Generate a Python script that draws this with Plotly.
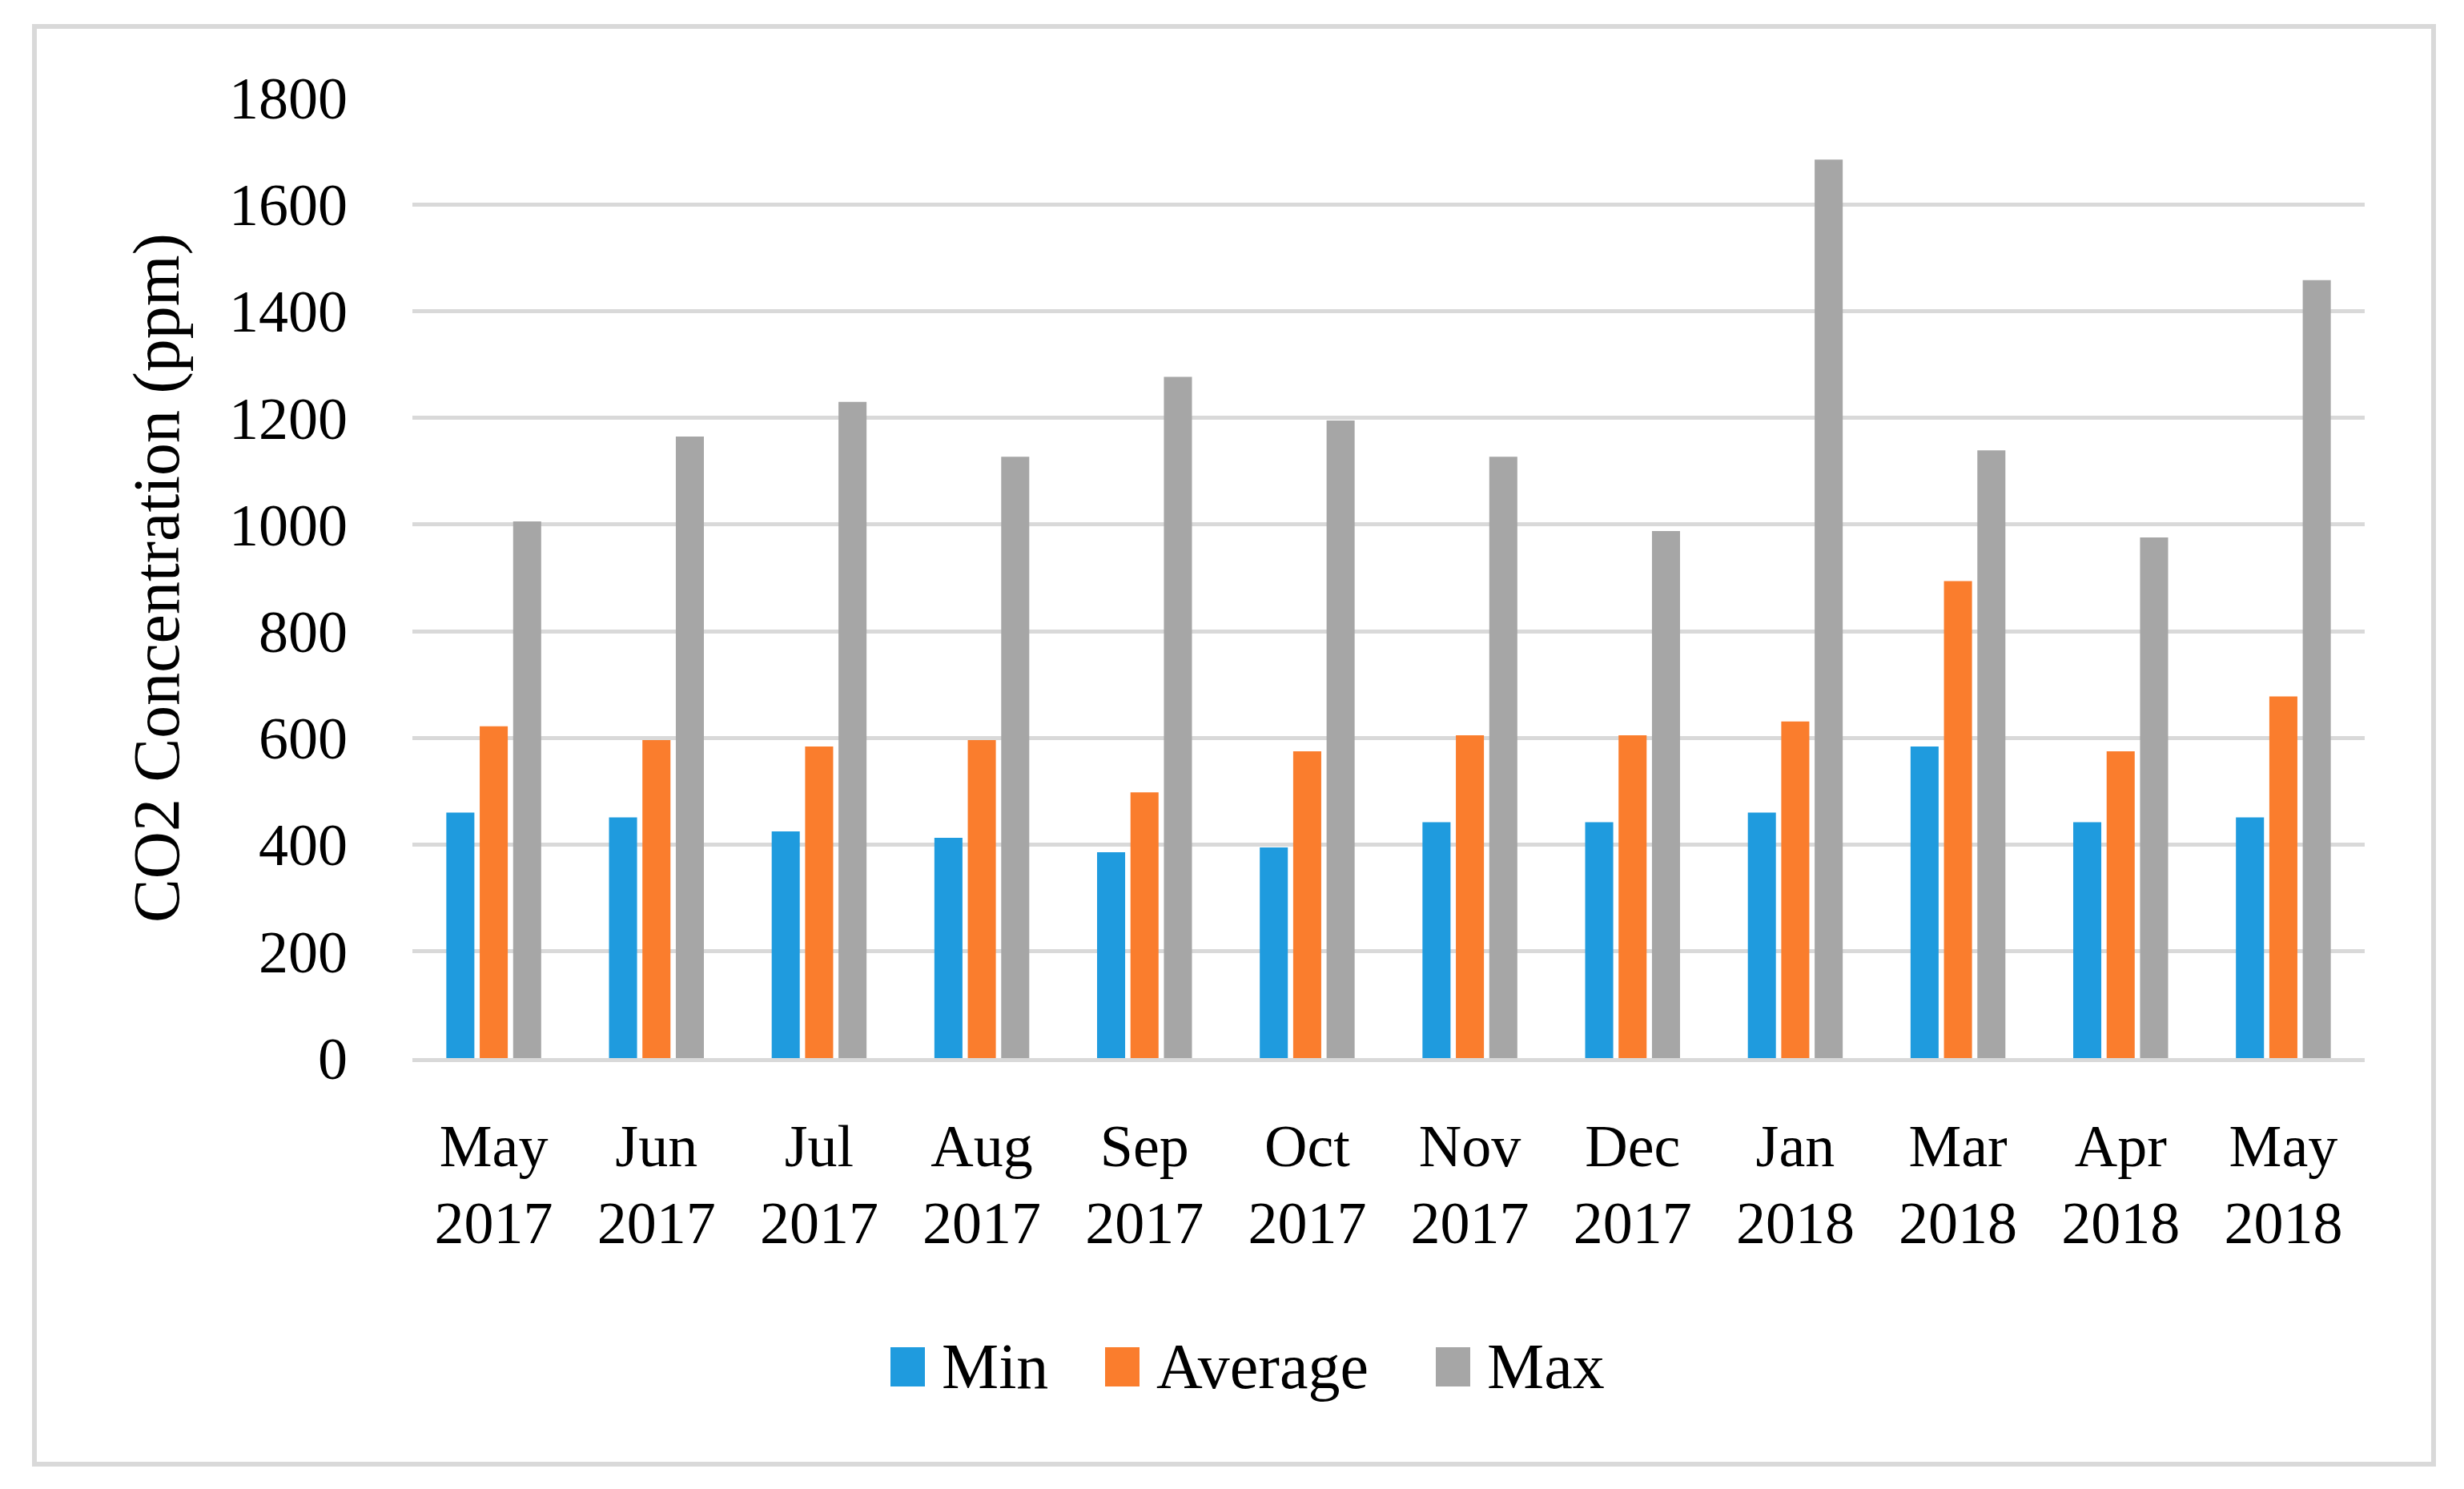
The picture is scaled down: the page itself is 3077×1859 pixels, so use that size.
import plotly.graph_objects as go

categories = ["May<br>2017", "Jun<br>2017", "Jul<br>2017", "Aug<br>2017", "Sep<br>2017", "Oct<br>2017",
              "Nov<br>2017", "Dec<br>2017", "Jan<br>2018", "Mar<br>2018", "Apr<br>2018", "May<br>2018"]
min_vals = [460, 451, 425, 413, 386, 395, 442, 442, 460, 584, 442, 451]
avg_vals = [622, 596, 584, 596, 498, 575, 605, 605, 631, 894, 575, 678]
max_vals = [1006, 1165, 1230, 1127, 1277, 1195, 1127, 988, 1684, 1139, 976, 1458]
series_names = ["Min", "Average", "Max"]
series_colors = ["#1F9BDE", "#FA7D2D", "#A6A6A6"]
y_ticks = [0, 200, 400, 600, 800, 1000, 1200, 1400, 1600, 1800]

OFF = 8  # page body margin
W, H = 3077 - OFF, 1859 - OFF
# plot area in page pixels: x 515..2953, y 122..1321
L, T = 515 - OFF, 122 - OFF
R, B = W - (2953 - OFF), H - (1321 - OFF)
PW, PH = W - L - R, H - T - B

def px_x(p):
    return (p - OFF - L) / PW

def px_y(p):
    return (H - B - (p - OFF)) / PH

FONT = "Liberation Serif"

fig = go.Figure()
for name, vals, col in zip(series_names, [min_vals, avg_vals, max_vals], series_colors):
    fig.add_trace(go.Bar(x=categories, y=vals, name=name, marker=dict(color=col, line=dict(width=0)),
                         showlegend=False))

fig.update_layout(
    width=W, height=H,
    margin=dict(l=L, r=R, t=T, b=B, pad=0),
    paper_bgcolor="white", plot_bgcolor="white",
    barmode="group", bargap=0.384, bargroupgap=0.16,
    font=dict(family=FONT, color="black", size=74),
    xaxis=dict(showgrid=False, showline=True, linecolor="#D9D9D9", linewidth=5,
               tickfont=dict(size=74, family=FONT), ticklabelstandoff=41, ticks=""),
    yaxis=dict(range=[0, 1800], tickvals=y_ticks, showgrid=True, gridcolor="#D9D9D9", gridwidth=5,
               zeroline=False, showline=False, ticks="", tickfont=dict(size=74, family=FONT),
               ticklabelstandoff=80,
               title=dict(text="CO2 Concentration (ppm)", font=dict(size=82, family=FONT), standoff=35)),
)

# outer frame
fig.add_shape(type="rect", xref="paper", yref="paper",
              x0=px_x(43), x1=px_x(3039), y0=px_y(1828), y1=px_y(33),
              line=dict(color="#D9D9D9", width=6), fillcolor="rgba(0,0,0,0)", layer="below")

# legend built from series lists
sw_x = [1112, 1380, 1793]
for name, col, sx in zip(series_names, series_colors, sw_x):
    fig.add_shape(type="rect", xref="paper", yref="paper",
                  x0=px_x(sx), x1=px_x(sx + 43), y0=px_y(1731), y1=px_y(1682),
                  line=dict(width=0), fillcolor=col)
    fig.add_annotation(text=name, xref="paper", yref="paper", x=px_x(sx + 62), y=px_y(1706),
                       xanchor="left", yanchor="middle", showarrow=False,
                       font=dict(size=80, family=FONT, color="black"))

fig.write_html("out.html")
